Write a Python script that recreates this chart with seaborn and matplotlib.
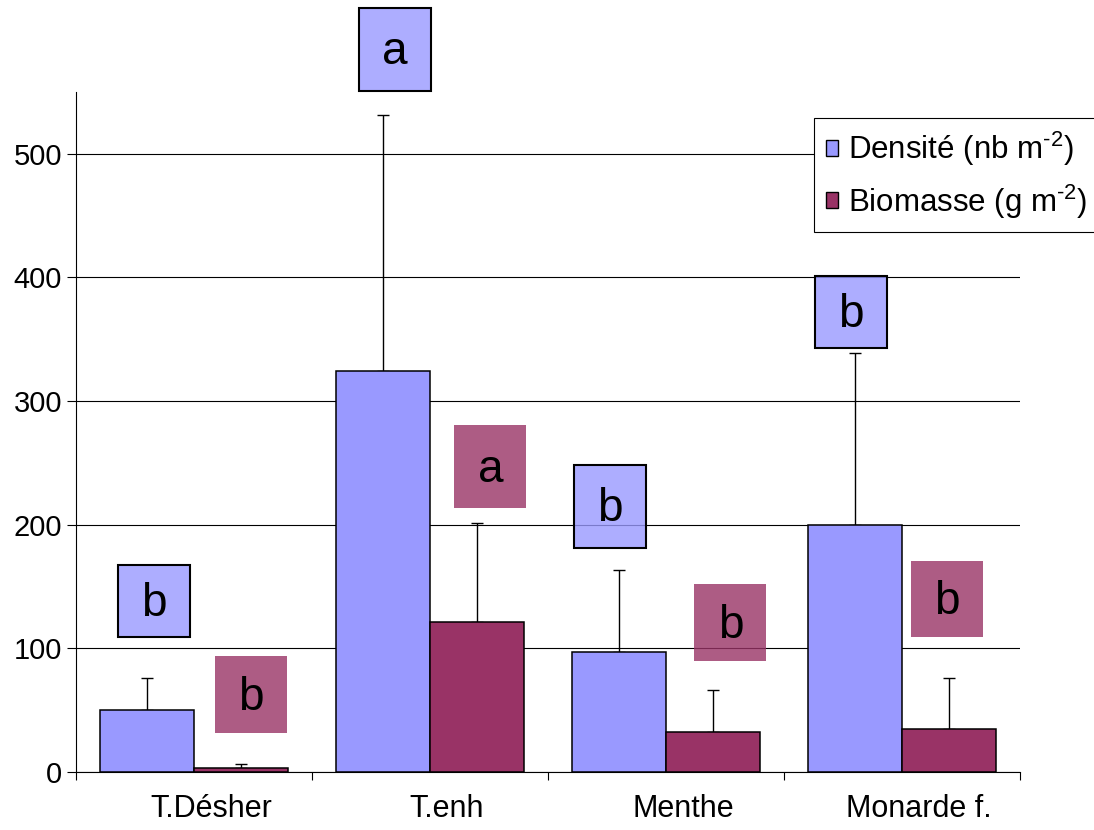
import matplotlib
matplotlib.use("Agg")
import matplotlib.pyplot as plt
from matplotlib.patches import Patch, Rectangle
from matplotlib.transforms import ScaledTranslation
import seaborn as sns
import pandas as pd

# Mean values and upper error (top of the error bar) per treatment
categories = ["T.Désher", "T.enh", "Menthe", "Monarde f."]
densite = [50, 324, 97, 200]
densite_top = [76, 531, 163, 339]
biomasse = [3, 121, 32, 35]
biomasse_top = [6.5, 201, 66, 76]

# Significance letters (Densité, Biomasse)
letters_densite = ["b", "a", "b", "b"]
letters_biomasse = ["b", "a", "b", "b"]

series_names = ["Densité (nb m$^{\u20102}$)", "Biomasse (g m$^{\u20102}$)"]
colors = ["#9999FF", "#993366"]

df = pd.DataFrame({
    "cat": categories * 2,
    "serie": [series_names[0]] * 4 + [series_names[1]] * 4,
    "val": densite + biomasse,
})

sns.set_theme(style="white")
plt.rcParams["font.family"] = ["Liberation Sans", "DejaVu Sans"]
plt.rcParams["mathtext.fontset"] = "custom"
plt.rcParams["mathtext.rm"] = "Liberation Sans"
plt.rcParams["mathtext.it"] = "Liberation Sans"
plt.rcParams["text.color"] = "black"
plt.rcParams["xtick.color"] = "black"
plt.rcParams["ytick.color"] = "black"

fig = plt.figure(figsize=(10.94, 8.30), dpi=100)
ax = fig.add_axes([76 / 1094, 58 / 830, 944 / 1094, 680 / 830])

sns.barplot(data=df, x="cat", y="val", hue="serie", palette=colors,
            order=categories, hue_order=series_names, width=0.8,
            saturation=1, edgecolor="black", linewidth=1.1, errorbar=None,
            ax=ax, zorder=3)

# Upper-only error bars on each bar
tops = [densite_top, biomasse_top]
means = [densite, biomasse]
for cont, m, t in zip(ax.containers, means, tops):
    xs = [p.get_x() + p.get_width() / 2 for p in cont.patches]
    up = [ti - mi for mi, ti in zip(m, t)]
    ax.errorbar(xs, m, yerr=[[0] * len(m), up], fmt="none", ecolor="black",
                elinewidth=1, capsize=4.3, capthick=1, zorder=2)

ax.set_xlim(-0.5, 3.5)
ax.set_ylim(0, 550)
ax.set_yticks([0, 100, 200, 300, 400, 500])
ax.yaxis.grid(True, color="black", linewidth=0.8)
ax.set_axisbelow(True)
ax.set_xlabel("")
ax.set_ylabel("")

for side in ["top", "right"]:
    ax.spines[side].set_visible(False)
for side in ["left", "bottom"]:
    ax.spines[side].set_color("black")
    ax.spines[side].set_linewidth(0.8)

ax.tick_params(axis="y", which="major", direction="out", length=6.5,
               width=0.8, color="black", labelcolor="black", labelsize=21,
               pad=3.5, left=True)
ax.tick_params(axis="x", which="major", length=0, labelsize=22, pad=16,
               labelcolor="black")
ax.set_xticks([-0.5, 0.5, 1.5, 2.5, 3.5], minor=True)
ax.tick_params(axis="x", which="minor", direction="out", length=6,
               width=0.8, color="black", bottom=True)
shift = ScaledTranslation(17 / 100, 0, fig.dpi_scale_trans)
for lab in ax.get_xticklabels():
    lab.set_transform(lab.get_transform() + shift)

# Letter boxes: offset from category centre, box centre height, box height
dens_dx = [-0.17, -0.15, -0.237, -0.218]
dens_y = [138.5, 584.5, 215, 372]
dens_h = [58, 67, 67, 58]
bio_dx = [0.24, 0.256, 0.273, 0.19]
bio_y = [62.5, 247, 121, 140]
bio_h = [62, 67, 62, 62]
box_w = 0.305

for i in range(len(categories)):
    for dx, yy, hh, let, col, edge in [
        (dens_dx[i], dens_y[i], dens_h[i], letters_densite[i], colors[0], "black"),
        (bio_dx[i], bio_y[i], bio_h[i], letters_biomasse[i], colors[1], "none"),
    ]:
        cx = i + dx
        ax.add_patch(Rectangle((cx - box_w / 2, yy - hh / 2), box_w, hh,
                               facecolor=col, alpha=0.8, edgecolor="none",
                               clip_on=False, zorder=5))
        if edge != "none":
            ax.add_patch(Rectangle((cx - box_w / 2, yy - hh / 2), box_w, hh,
                                   facecolor="none", edgecolor=edge,
                                   linewidth=1.5, clip_on=False, zorder=6))
        ax.text(cx, yy + 1.5, let, ha="center", va="center_baseline",
                fontsize=33, color="black", zorder=7, clip_on=False)

if ax.get_legend() is not None:
    ax.get_legend().remove()
handles = [Patch(facecolor=c, edgecolor="black", linewidth=1) for c in colors]
leg = fig.legend(handles, series_names, loc="upper left",
                 bbox_to_anchor=(814 / 1094, 1 - 118 / 830),
                 fontsize=22.5, frameon=True, fancybox=False, shadow=False,
                 handlelength=0.4, handleheight=0.4, handletextpad=0.3,
                 labelspacing=0.45, borderpad=0.38, borderaxespad=0)
leg.get_frame().set_edgecolor("black")
leg.get_frame().set_linewidth(0.8)
leg.get_frame().set_alpha(1)
for t in leg.get_texts():
    t.set_color("black")

fig.savefig("out.png", dpi=100)
